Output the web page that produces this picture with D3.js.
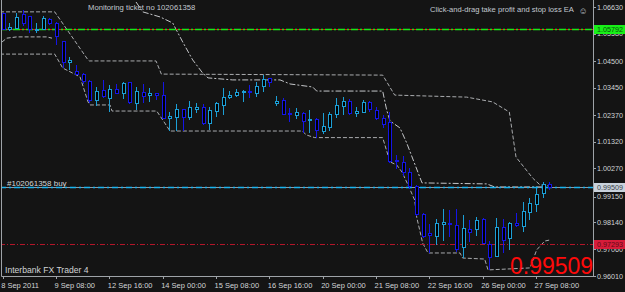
<!DOCTYPE html>
<html>
<head>
<meta charset="utf-8">
<script src="https://cdn.jsdelivr.net/npm/d3@7"></script>
<style>
  body { margin: 0; background: #141414; }
  svg { display: block; }
  text { font-family: 'Liberation Sans', Arial, sans-serif; }
</style>
</head>
<body>
<div id="chart"></div>
<script>
// 4H EURUSD-like bars, 8 Sep 2011 00:00 -> 27 Sep 16:00
var opens = [1.0637, 1.0577, 1.0581, 1.0633, 1.0625, 1.0571, 1.0577, 1.0613, 1.0597, 1.0526,
  1.0443, 1.0411, 1.0399, 1.0368, 1.0293, 1.0336, 1.0304, 1.034, 1.0324, 1.0364,
  1.0281, 1.0328, 1.0316, 1.0322, 1.0316, 1.0225, 1.0229, 1.0261, 1.0229, 1.0261,
  1.0265, 1.0202, 1.0253, 1.0273, 1.0308, 1.0316, 1.0326, 1.0332, 1.0324, 1.0348,
  1.038, 1.0281, 1.0293, 1.0245, 1.0237, 1.0245, 1.0214, 1.0221, 1.0174, 1.0186,
  1.0241, 1.0269, 1.0289, 1.0245, 1.0249, 1.0285, 1.0257, 1.0225, 1.0206, 1.0059,
  1.0048, 1.0012, 0.9953, 0.9846, 0.9767, 0.9759, 0.9806, 0.981, 0.9802, 0.9712,
  0.9783, 0.9783, 0.9826, 0.9727, 0.968, 0.9791, 0.9751, 0.981, 0.9795, 0.985,
  0.9885, 0.9929, 0.9961]
var highs = [1.0641, 1.0601, 1.0641, 1.0652, 1.0629, 1.0601, 1.0629, 1.0621, 1.0605, 1.0527,
  1.0467, 1.0435, 1.0403, 1.0376, 1.0348, 1.0376, 1.0356, 1.036, 1.0368, 1.0368,
  1.0348, 1.036, 1.0344, 1.0324, 1.0368, 1.0249, 1.0281, 1.0262, 1.0293, 1.0285,
  1.0281, 1.0269, 1.0289, 1.0344, 1.0332, 1.034, 1.0336, 1.0356, 1.0368, 1.0395,
  1.0384, 1.0312, 1.0304, 1.0265, 1.0265, 1.0249, 1.0257, 1.0225, 1.0245, 1.0249,
  1.0304, 1.0308, 1.0301, 1.0269, 1.0297, 1.0293, 1.0269, 1.0237, 1.0249, 1.0079,
  1.0075, 1.0028, 0.9961, 0.985, 0.9806, 0.9826, 0.9866, 0.9862, 0.9866, 0.9842,
  0.9822, 0.9834, 0.983, 0.9739, 0.983, 0.9826, 0.9814, 0.985, 0.9893, 0.9909,
  0.9949, 0.9972, 0.9972]
var lows = [1.0573, 1.0569, 1.0577, 1.0589, 1.0561, 1.0561, 1.0573, 1.0593, 1.0514, 1.0423,
  1.0415, 1.0395, 1.036, 1.0285, 1.0273, 1.0304, 1.0249, 1.032, 1.0301, 1.0281,
  1.0257, 1.0285, 1.0289, 1.0297, 1.0221, 1.0174, 1.0174, 1.0174, 1.0218, 1.0245,
  1.0198, 1.0178, 1.0229, 1.0237, 1.0301, 1.0308, 1.0289, 1.0304, 1.0308, 1.0328,
  1.0348, 1.0273, 1.0237, 1.021, 1.0221, 1.0166, 1.0166, 1.0146, 1.0162, 1.0174,
  1.0225, 1.0237, 1.0237, 1.0229, 1.0245, 1.0249, 1.0218, 1.0186, 1.0048, 1.0024,
  0.9996, 0.9945, 0.9838, 0.9751, 0.9692, 0.9723, 0.9739, 0.9755, 0.9696, 0.9672,
  0.9735, 0.9759, 0.9727, 0.9625, 0.9676, 0.9692, 0.9704, 0.9795, 0.9775, 0.9822,
  0.9854, 0.9909, 0.9941]
var closes = [1.0577, 1.0585, 1.0621, 1.0597, 1.0577, 1.0577, 1.0617, 1.0597, 1.0546, 1.0443,
  1.0451, 1.0399, 1.0368, 1.0293, 1.0332, 1.0312, 1.034, 1.0324, 1.036, 1.0285,
  1.0332, 1.0312, 1.0324, 1.0314, 1.0225, 1.0233, 1.0261, 1.0229, 1.0265, 1.0265,
  1.0202, 1.0257, 1.0281, 1.0308, 1.0316, 1.0328, 1.0332, 1.0326, 1.0348, 1.0376,
  1.0364, 1.0289, 1.0241, 1.0241, 1.0249, 1.021, 1.0221, 1.0178, 1.019, 1.0241,
  1.0273, 1.0289, 1.0245, 1.0253, 1.0285, 1.0261, 1.0225, 1.0198, 1.0052, 1.0052,
  1.0012, 0.9953, 0.9846, 0.9759, 0.9763, 0.981, 0.9814, 0.9806, 0.9704, 0.9787,
  0.9771, 0.9822, 0.9731, 0.9676, 0.9791, 0.9743, 0.981, 0.9799, 0.9854, 0.9889,
  0.9925, 0.9961, 0.99509]

var timeLabels = ['8 Sep 2011', '9 Sep 08:00', '12 Sep 16:00', '14 Sep 00:00', '15 Sep 08:00',
  '16 Sep 16:00', '20 Sep 00:00', '21 Sep 08:00', '22 Sep 16:00', '26 Sep 00:00', '27 Sep 08:00']
var timeLabelBars = [0, 8, 16, 24, 32, 40, 48, 56, 64, 72, 80]

var priceTicks = [1.0663, 1.0558, 1.045, 1.0345, 1.0237, 1.0132, 1.0027, 0.9915, 0.9814, 0.9706, 0.9601]

var takeProfit = 1.05792
var openPrice = 0.99509
var stopLoss = 0.97293
var bid = 0.99509
var ticket = '102061358'

// indicator lines, [bar, price]
var upperBand = [[-0.4, 1.0645], [7.8, 1.0645], [12.8, 1.0455], [13, 1.0451], [23, 1.0451],
  [23.8, 1.0399], [57, 1.0395], [58.8, 1.0316], [69.6, 1.0308], [73.5, 1.0289], [76, 1.0249],
  [77, 1.0071], [79.5, 0.9988], [80.6, 0.9961], [82, 0.9957]]
var trailLine = [[20, 1.0684], [21, 1.0645], [23.6, 1.0625], [25.5, 1.0601], [27, 1.0526],
  [28.5, 1.0455], [30, 1.0403], [30.8, 1.0384], [34.5, 1.0376], [41.6, 1.0376], [43.1, 1.036],
  [46.5, 1.0348], [47.1, 1.0332], [57, 1.0332], [57.6, 1.0257], [58.1, 1.0214], [59.6, 1.0186],
  [60.6, 1.0127], [62.9, 0.9969], [72.6, 0.9965], [73.8, 0.9953], [82, 0.9953]]
var lowerBand = [[-0.4, 1.0478], [7.8, 1.0478], [9, 1.0423], [11.6, 1.0388], [12.8, 1.0289],
  [13.1, 1.0277], [16.1, 1.0277], [16.4, 1.0253], [23.1, 1.0253], [24, 1.0218], [25.1, 1.0174],
  [44.9, 1.0174], [45.6, 1.0158], [46.8, 1.0148], [57, 1.0148], [58.1, 1.0052], [59.1, 1.004],
  [59.9, 1.0012], [60.8, 0.9961], [61.8, 0.9901], [62.1, 0.9834], [63, 0.9731], [63.8, 0.9692],
  [68.6, 0.9692], [69, 0.9672], [72.3, 0.9668], [72.8, 0.9625], [79.1, 0.9633], [80.1, 0.9704],
  [81.3, 0.9739], [82, 0.9743]]
var leftCurve = [[-0.1, 1.0526], [0.6, 1.0541], [2.1, 1.0546], [6.6, 1.0546], [7.4, 1.0541]]

var width = 625
var height = 292
var plotRight = 593
var plotBottom = 276

var svg = d3
  .select('#chart')
  .append('svg')
  .attr('width', width)
  .attr('height', height)

svg
  .append('rect')
  .attr('width', width)
  .attr('height', height)
  .attr('fill', '#141414')

var xScale = d3.scaleLinear().domain([0, 80]).range([2.7, 536])
var yScale = d3.scaleLinear().domain([0.9601, 1.0663]).range([plotBottom, 7.3])

svg
  .append('clipPath')
  .attr('id', 'plot-clip')
  .append('rect')
  .attr('x', 1)
  .attr('y', 0)
  .attr('width', plotRight - 1)
  .attr('height', plotBottom)

var plot = svg.append('g').attr('clip-path', 'url(#plot-clip)')

var line = d3
  .line()
  .x(d => xScale(d[0]))
  .y(d => yScale(d[1]))

// indicator lines
plot
  .append('path')
  .datum(upperBand)
  .attr('d', line)
  .attr('fill', 'none')
  .attr('stroke', '#a9abae')
  .attr('stroke-dasharray', '4,2')
plot
  .append('path')
  .datum(lowerBand)
  .attr('d', line)
  .attr('fill', 'none')
  .attr('stroke', '#a9abae')
  .attr('stroke-dasharray', '4,2')
plot
  .append('path')
  .datum(trailLine)
  .attr('d', line)
  .attr('fill', 'none')
  .attr('stroke', '#c4c6c9')
  .attr('stroke-dasharray', '6,2,2,2')
plot
  .append('path')
  .datum(leftCurve)
  .attr('d', line)
  .attr('fill', 'none')
  .attr('stroke', '#b4b6b9')
  .attr('stroke-dasharray', '4,2')

// order lines
plot
  .append('line')
  .attr('x1', 0)
  .attr('x2', plotRight)
  .attr('y1', Math.round(yScale(takeProfit)) + 0.5)
  .attr('y2', Math.round(yScale(takeProfit)) + 0.5)
  .attr('stroke', '#e01010')
plot
  .append('line')
  .attr('x1', 0)
  .attr('x2', plotRight)
  .attr('y1', Math.round(yScale(takeProfit)) + 0.5)
  .attr('y2', Math.round(yScale(takeProfit)) + 0.5)
  .attr('stroke', '#19e619')
  .attr('stroke-width', 1.5)
  .attr('stroke-dasharray', '7,2,2,2')

plot
  .append('line')
  .attr('x1', 0)
  .attr('x2', plotRight)
  .attr('y1', Math.round(yScale(stopLoss)) + 0.5)
  .attr('y2', Math.round(yScale(stopLoss)) + 0.5)
  .attr('stroke', '#b3162a')
  .attr('stroke-dasharray', '5,2,1,2')

plot
  .append('line')
  .attr('x1', 0)
  .attr('x2', plotRight)
  .attr('y1', Math.round(yScale(bid)) + 0.5)
  .attr('y2', Math.round(yScale(bid)) + 0.5)
  .attr('stroke', '#8d9aa8')
plot
  .append('line')
  .attr('x1', 0)
  .attr('x2', plotRight)
  .attr('y1', Math.round(yScale(openPrice)) + 0.5)
  .attr('y2', Math.round(yScale(openPrice)) + 0.5)
  .attr('stroke', '#1ab4f0')
  .attr('stroke-width', 1.5)
  .attr('stroke-dasharray', '6,3,2,3')

// candles
var candles = opens.map((o, i) => ({
  i: i,
  open: o,
  high: highs[i],
  low: lows[i],
  close: closes[i]
}))

var bullColor = '#1c9fd6'
var bearColor = '#1515e6'

var candle = plot
  .selectAll('.candle')
  .data(candles)
  .enter()
  .append('g')
  .attr('class', 'candle')
  .attr('shape-rendering', 'crispEdges')

candle
  .append('line')
  .attr('x1', d => Math.round(xScale(d.i)) + 0.5)
  .attr('x2', d => Math.round(xScale(d.i)) + 0.5)
  .attr('y1', d => yScale(d.high))
  .attr('y2', d => yScale(d.low))
  .attr('stroke', d => (d.close >= d.open ? bullColor : bearColor))

candle
  .append('rect')
  .attr('x', d => Math.round(xScale(d.i)) - 1)
  .attr('width', 3)
  .attr('y', d => yScale(Math.max(d.open, d.close)))
  .attr('height', d => Math.max(1, Math.abs(yScale(d.open) - yScale(d.close))))
  .attr('fill', '#000')
  .attr('stroke', d => (d.close >= d.open ? bullColor : bearColor))

// frame
svg
  .append('path')
  .attr('d', `M1.5,0V${plotBottom + 0.5}H${plotRight + 0.5}V0`)
  .attr('fill', 'none')
  .attr('stroke', '#9ea3a8')

// price axis
svg
  .selectAll('.price-tick')
  .data(priceTicks)
  .enter()
  .append('line')
  .attr('x1', plotRight)
  .attr('x2', plotRight + 3)
  .attr('y1', d => Math.round(yScale(d)) + 0.5)
  .attr('y2', d => Math.round(yScale(d)) + 0.5)
  .attr('stroke', '#9ea3a8')

svg
  .selectAll('.price-text')
  .data(priceTicks)
  .enter()
  .append('text')
  .text(d => d.toFixed(5))
  .attr('x', plotRight + 4)
  .attr('y', d => yScale(d) + 2.6)
  .attr('fill', '#d2d4d6')
  .attr('font-size', 7.2)

// time axis
svg
  .selectAll('.time-tick')
  .data(timeLabelBars)
  .enter()
  .append('line')
  .attr('x1', d => Math.round(xScale(d)) + 0.5)
  .attr('x2', d => Math.round(xScale(d)) + 0.5)
  .attr('y1', plotBottom)
  .attr('y2', plotBottom + 3)
  .attr('stroke', '#9ea3a8')

svg
  .selectAll('.time-text')
  .data(timeLabels)
  .enter()
  .append('text')
  .text(d => d)
  .attr('x', (d, i) => xScale(timeLabelBars[i]) - 1.5)
  .attr('y', 288)
  .attr('fill', '#d2d4d6')
  .attr('font-size', 7.5)

// price labels for the order lines
var levelLabels = [
  { value: takeProfit, bg: '#18f018', fg: '#0b4d0b' },
  { value: bid, bg: '#c9d2dc', fg: '#3a3f46' },
  { value: stopLoss, bg: '#d71c3a', fg: '#5e0a16' }
]

var levelLabel = svg
  .selectAll('.level-label')
  .data(levelLabels)
  .enter()
  .append('g')

levelLabel
  .append('rect')
  .attr('x', plotRight + 1)
  .attr('y', d => Math.round(yScale(d.value)) - 4)
  .attr('width', width - plotRight - 1)
  .attr('height', 9)
  .attr('fill', d => d.bg)

levelLabel
  .append('text')
  .text(d => d.value.toFixed(5))
  .attr('x', plotRight + 4)
  .attr('y', d => Math.round(yScale(d.value)) + 3)
  .attr('fill', d => d.fg)
  .attr('font-size', 7.2)

// chart texts
svg
  .append('text')
  .text('Monitoring ticket no ' + ticket)
  .attr('x', 88)
  .attr('y', 10)
  .attr('fill', '#c3c9d0')
  .attr('font-size', 7.7)

svg
  .append('text')
  .text('Click-and-drag take profit and stop loss EA')
  .attr('x', 430)
  .attr('y', 12)
  .attr('fill', '#c3c9d0')
  .attr('font-size', 7.6)

svg
  .append('text')
  .text('\u263A')
  .attr('x', 583)
  .attr('y', 13.5)
  .attr('text-anchor', 'middle')
  .attr('fill', '#c3c9d0')
  .attr('font-family', 'DejaVu Sans')
  .attr('font-size', 9)

svg
  .append('text')
  .text('#' + ticket + ' buy')
  .attr('x', 7)
  .attr('y', 186)
  .attr('fill', '#d2d4d6')
  .attr('font-size', 8)

svg
  .append('text')
  .text('Interbank FX Trader 4')
  .attr('x', 5)
  .attr('y', 273)
  .attr('fill', '#d2d4d6')
  .attr('font-size', 8.6)

svg
  .append('text')
  .text(bid.toFixed(5))
  .attr('x', 510)
  .attr('y', 274)
  .attr('fill', '#ff0a0a')
  .attr('font-size', 23)
</script>
</body>
</html>
